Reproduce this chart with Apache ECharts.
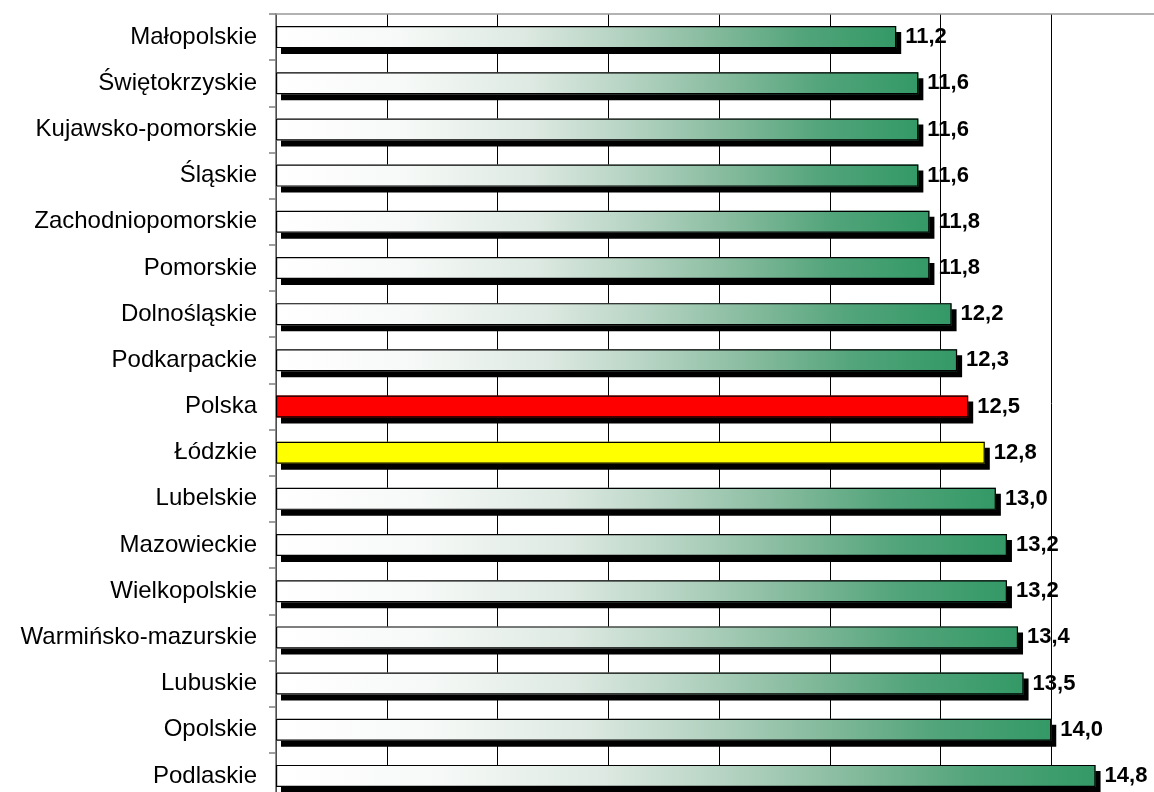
<!DOCTYPE html>
<html>

<head>
    <meta charset="utf-8">
    <title>Województwa</title>
    <script src="https://cdn.jsdelivr.net/npm/echarts@6/dist/echarts.min.js"></script>
    <style>
        html,
        body {
            margin: 0;
            padding: 0;
            height: 100%;
            overflow: hidden;
            background: #fff;
        }

        #main {
            width: 1154px;
            height: 792px;
        }
    </style>
</head>

<body>
    <div id="main"></div>

    <script>
        // data, top to bottom
        const regions = [
            'Małopolskie', 'Świętokrzyskie', 'Kujawsko-pomorskie', 'Śląskie',
            'Zachodniopomorskie', 'Pomorskie', 'Dolnośląskie', 'Podkarpackie',
            'Polska', 'Łódzkie', 'Lubelskie', 'Mazowieckie', 'Wielkopolskie',
            'Warmińsko-mazurskie', 'Lubuskie', 'Opolskie', 'Podlaskie'
        ];
        const rates = [
            11.2, 11.6, 11.6, 11.6,
            11.8, 11.8, 12.2, 12.3,
            12.5, 12.8, 13.0, 13.2, 13.2,
            13.4, 13.5, 14.0, 14.8
        ];

        const specialColors = { 'Polska': '#ff0000', 'Łódzkie': '#ffff00' };

        const greenFade = new echarts.graphic.LinearGradient(0, 0, 1, 0, [
            { offset: 0, color: '#ffffff' },
            { offset: 0.2, color: '#f6f9f7' },
            { offset: 0.4, color: '#dde9e2' },
            { offset: 0.55, color: '#b5d3c2' },
            { offset: 0.7, color: '#86bb9e' },
            { offset: 0.85, color: '#52a47a' },
            { offset: 1, color: '#339966' }
        ]);

        const chart = echarts.init(document.getElementById('main'));

        chart.setOption({
            animation: false,
            textStyle: { fontFamily: 'Liberation Sans, Arial, sans-serif' },
            // plot runs a little past the right edge (max 16 is cut off)
            grid: {
                left: 276, top: 14, width: 886, height: 785,
                outerBoundsMode: 'none'
            },

            xAxis: {
                type: 'value',
                position: 'top',
                min: 0,
                max: 16,
                interval: 2,
                axisLine: { show: true, lineStyle: { color: '#999', width: 1.5 } },
                axisTick: { show: false },
                axisLabel: { show: false },
                splitLine: { show: true, lineStyle: { color: '#000', width: 1 } }
            },

            yAxis: {
                type: 'category',
                inverse: true,
                data: regions,
                axisLine: { show: true, lineStyle: { color: '#666', width: 1.5 } },
                axisTick: { show: true, length: 7, lineStyle: { color: '#808080', width: 1.5 } },
                axisLabel: { color: '#000', fontSize: 24, margin: 19 }
            },

            series: [
                {
                    // filled bars casting the hard black shadow
                    type: 'bar',
                    barWidth: 22,
                    data: rates.map((v, i) => ({
                        value: v,
                        itemStyle: { color: specialColors[regions[i]] || greenFade }
                    })),
                    itemStyle: {
                        shadowColor: '#000',
                        shadowBlur: 0,
                        shadowOffsetX: 5,
                        shadowOffsetY: 6
                    }
                },
                {
                    // outline + value labels on top
                    type: 'bar',
                    barWidth: 22,
                    barGap: '-100%',
                    data: rates,
                    itemStyle: {
                        color: 'rgba(0,0,0,0)',
                        borderColor: '#000',
                        borderWidth: 1.2
                    },
                    label: {
                        show: true,
                        position: 'right',
                        distance: 9,
                        color: '#000',
                        fontSize: 22,
                        fontWeight: 'bold',
                        formatter: p => p.value.toFixed(1).replace('.', ',')
                    }
                }
            ]
        });
    </script>

</body>

</html>
